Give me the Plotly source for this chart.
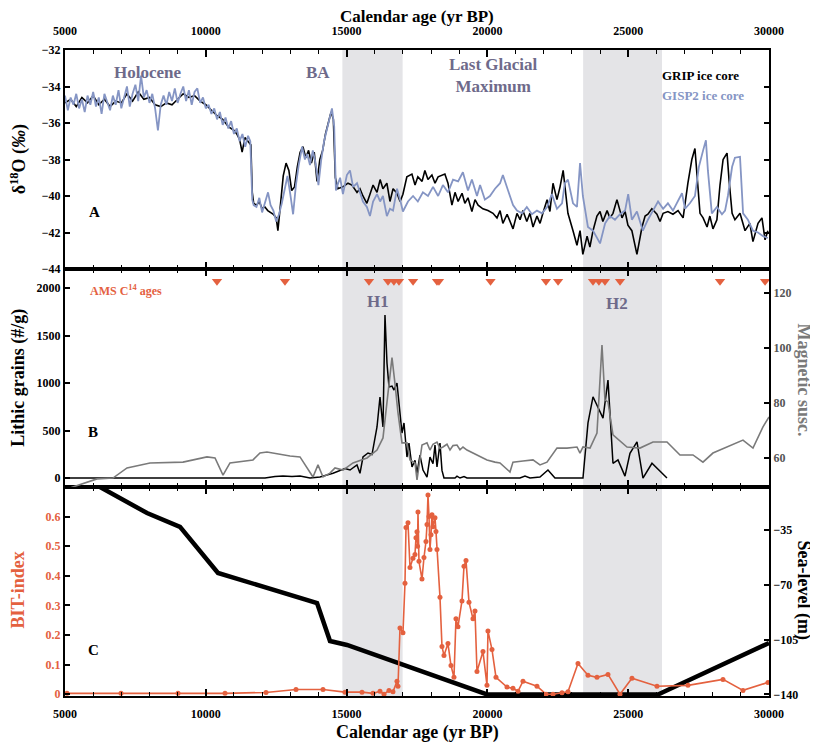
import plotly.graph_objects as go

# ---------------- DATA ----------------
# Panel A: Greenland ice core d18O (permil)
gisp2_age = [5000, 5100, 5200, 5300, 5400, 5500, 5600, 5700, 5800, 5900, 6000, 6100, 6200, 6300, 6400, 6500,
             6600, 6700, 6800, 6900, 7000, 7100, 7200, 7300, 7400, 7500, 7600, 7700, 7800, 7900, 8000, 8100,
             8200, 8300, 8400, 8500, 8600, 8700, 8800, 8900, 9000, 9100, 9200, 9300, 9400, 9500, 9600, 9700,
             9800, 9900, 10000, 10100, 10200, 10300, 10400, 10500, 10600, 10700, 10800, 10900, 11000, 11100,
             11200, 11300, 11400, 11500, 11580, 11650, 11700, 11800, 11900, 12000, 12100, 12210, 12300, 12400,
             12500, 12600, 12700, 12800, 12900, 13000, 13100, 13200, 13300, 13420, 13520, 13600, 13700, 13800,
             13900, 14000, 14100, 14200, 14300, 14400, 14480, 14560, 14620, 14700, 14770, 14870, 15010, 15120,
             15230, 15370, 15475, 15580, 15720, 15830, 15940, 16080, 16190, 16290, 16430, 16540, 16650, 16790,
             16900, 17000, 17180, 17360, 17530, 17710, 17890, 18070, 18250, 18420, 18600, 18780, 18960, 19130,
             19310, 19450, 19630, 19740, 19910, 20090, 20270, 20450, 20550, 20700, 20800, 20910, 21050, 21230,
             21400, 21580, 21760, 21940, 22120, 22290, 22470, 22650, 22750, 22860, 23040, 23180, 23290, 23390,
             23570, 23750, 24000, 24180, 24350, 24530, 24710, 24890, 25000, 25130, 25310, 25520, 25700, 25880,
             26060, 26240, 26410, 26590, 26770, 26910, 27020, 27190, 27370, 27510, 27660, 27760, 27830, 27970,
             28150, 28330, 28440, 28540, 28690, 28790, 28970, 29080, 29250, 29430, 29610, 29790, 29960]
gisp2_d18o = [-34.5, -35.3, -34.6, -35.0, -34.4, -35.2, -34.7, -35.4, -34.5, -35.0, -34.3, -35.1, -34.6, -35.5, -34.4, -34.9,
              -35.3, -34.5, -35.0, -34.2, -35.2, -34.6, -34.0, -35.1, -34.4, -33.9, -34.8, -33.4, -34.6, -34.2, -34.9, -34.4,
              -35.2, -36.4, -35.0, -34.5, -35.0, -34.3, -34.8, -34.1, -34.9, -34.4, -34.0, -34.8, -34.2, -35.0, -34.3, -34.1,
              -34.9, -34.6, -35.2, -35.0, -35.5, -35.2, -35.8, -35.4, -36.1, -35.7, -36.3, -35.9, -36.6, -36.3,
              -37.0, -36.6, -37.3, -36.7, -37.0, -40.2, -40.5, -40.6, -40.1, -40.9, -40.3, -39.8, -40.5, -40.8,
              -41.4, -41.0, -40.4, -39.6, -38.9, -39.9, -41.0, -39.4, -38.3, -37.3, -38.0, -37.7, -38.3, -37.5,
              -38.2, -39.4, -38.0, -37.0, -36.3, -35.6, -35.2, -36.2, -39.7, -39.3, -39.0, -39.9, -38.85, -38.6,
              -39.5, -39.3, -39.85, -40.3, -40.6, -41.1, -40.3, -39.9, -40.3, -40.0, -41.1, -40.7, -40.8, -39.6,
              -40.2, -40.85, -40.3, -40.0, -40.3, -39.8, -40.0, -39.5, -40.0, -39.4, -39.8, -39.1, -39.2, -38.7,
              -39.7, -39.1, -40.0, -39.4, -40.2, -40.0, -39.6, -39.3, -38.85, -39.6, -40.0, -40.5, -40.8, -40.95,
              -40.6, -41.0, -40.8, -40.95, -40.6, -39.9, -40.7, -40.4, -39.3, -39.1, -40.4, -40.6, -38.2, -40.0,
              -41.7, -41.9, -42.6, -41.5, -41.1, -41.3, -41.0, -40.8, -39.9, -41.3, -40.85, -41.9, -41.3, -40.8,
              -40.3, -40.7, -40.4, -40.8, -40.3, -39.85, -40.7, -40.4, -40.0, -38.4, -37.5, -36.95, -38.6, -40.95,
              -40.6, -41.0, -40.8, -40.0, -38.4, -37.9, -37.85, -40.95, -41.3, -41.9, -42.0, -42.2, -42.3]

grip_age = [5000, 5200, 5400, 5600, 5800, 6000, 6200, 6400, 6600, 6800, 7000, 7200, 7400, 7600, 7800, 8000,
            8200, 8400, 8600, 8800, 9000, 9200, 9400, 9600, 9800, 10000, 10200, 10400, 10600, 10800, 11000,
            11100, 11200, 11290, 11390, 11500, 11600, 11650, 11700, 11800, 11900, 12000, 12100, 12200, 12300,
            12400, 12500, 12560, 12650, 12750, 12850, 12950, 13050, 13150, 13250, 13350, 13450, 13550, 13650,
            13750, 13850, 13950, 14050, 14150, 14250, 14350, 14450, 14530, 14600, 14690, 14870, 15050, 15190,
            15370, 15475, 15580, 15720, 15830, 15940, 16080, 16190, 16290, 16430, 16540, 16650, 16790, 16900,
            17000, 17140, 17320, 17430, 17530, 17680, 17780, 17890, 18030, 18140, 18250, 18390, 18490, 18600,
            18740, 18850, 18960, 19100, 19200, 19310, 19450, 19560, 19670, 19840, 20020, 20200, 20340, 20450,
            20550, 20700, 20800, 20910, 21050, 21160, 21260, 21400, 21510, 21620, 21760, 21870, 21970, 22120,
            22220, 22330, 22470, 22580, 22690, 22860, 23040, 23180, 23290, 23390, 23540, 23640, 23750, 23890,
            24000, 24100, 24250, 24350, 24460, 24600, 24780, 24890, 24990, 25130, 25310, 25490, 25600, 25700,
            25840, 26020, 26130, 26240, 26410, 26590, 26770, 26950, 27120, 27260, 27370, 27440, 27550, 27660,
            27800, 27900, 28010, 28150, 28260, 28370, 28510, 28580, 28690, 28790, 28970, 29150, 29320, 29430,
            29610, 29750, 29860, 29960]
grip_d18o = [-34.9, -34.7, -35.1, -34.6, -34.9, -34.5, -35.0, -34.7, -35.1, -34.8, -34.9, -34.4, -34.8, -34.3, -34.7, -34.6,
             -35.0, -35.1, -34.9, -35.0, -34.7, -34.4, -34.6, -34.5, -34.8, -35.0, -35.3, -35.6, -35.8, -36.2, -36.4,
             -36.6, -36.9, -37.6, -36.8, -37.0, -37.2, -39.8, -40.4, -40.5, -40.3, -40.7, -40.6, -40.8, -40.9,
             -41.0, -41.2, -41.9, -40.5, -38.9, -38.2, -38.6, -39.7, -39.5, -38.4, -37.6, -37.3, -37.9, -37.5,
             -38.2, -37.6, -39.2, -38.0, -37.5, -36.6, -36.0, -35.4, -35.8, -39.0, -39.6, -39.5, -39.3, -39.4,
             -39.8, -39.6, -40.0, -40.4, -39.9, -39.4, -39.8, -39.1, -39.6, -39.3, -40.3, -39.6, -39.85, -40.3,
             -39.9, -38.95, -38.8, -39.4, -38.95, -39.2, -38.6, -39.1, -38.85, -39.3, -38.95, -38.85, -38.8, -39.3,
             -40.5, -39.8, -40.3, -39.85, -40.4, -40.1, -40.85, -40.2, -40.5, -40.7, -40.8, -40.95, -41.2, -40.8,
             -41.5, -41.0, -41.4, -41.8, -40.95, -41.3, -40.8, -41.4, -40.95, -41.7, -41.1, -41.5, -40.95, -40.2,
             -40.85, -39.3, -40.2, -39.5, -38.6, -40.95, -41.9, -42.7, -41.9, -43.2, -42.2, -42.8, -41.9, -41.1,
             -40.85, -41.4, -40.8, -41.2, -40.95, -40.2, -41.2, -40.85, -41.6, -41.9, -43.2, -41.7, -41.1, -41.0,
             -40.7, -41.0, -41.4, -40.95, -40.85, -41.0, -40.8, -41.2, -39.3, -38.0, -37.4, -38.8, -40.95, -41.2,
             -41.7, -41.1, -41.8, -41.3, -39.4, -38.0, -37.65, -39.1, -40.95, -41.3, -40.95, -41.9, -41.5, -42.5,
             -41.5, -41.2, -42.4, -41.9]

# Panel B: lithic grains (#/g) and magnetic susceptibility
lithic_age = [5000, 12102, 12457, 12741, 13061, 13345, 13700, 14055, 14517, 14943, 15122, 15369, 15475, 15582,
              15760, 15902, 16080, 16186, 16292, 16363, 16434, 16505, 16612, 16683, 16789, 16860, 16967, 17038,
              17144, 17215, 17322, 17429, 17500, 17606, 17713, 17855, 17961, 18068, 18139, 18210, 18316, 18387,
              18458, 18849, 18920, 19027, 19169, 19275, 21157, 21335, 21512, 21867, 22151, 22400, 23394, 23572,
              23750, 24105, 24282, 24459, 24637, 24886, 25063, 25312, 25524, 25844, 26377]
lithic_grains = [0, 0, 15, 20, 15, 20, 0, 10, 50, 100, 84, 137, 50, 221,
                 263, 247, 537, 853, 537, 1716, 1210, 958, 968, 926, 1000, 789, 474, 579,
                 221, 368, 116, 186, 50, 242, 84, 10, 221, 150, 347, 116, 368, 80,
                 0, 0, 20, 0, 15, 0, 0, 20, 0, 10, 84, 0, 0, 580,
                 855, 630, 1030, 155, 190, 20, 260, 380, 0, 155, 0]

mag_age = [5000, 6136, 6704, 7202, 8018, 9190, 10042, 10327, 10611, 10859, 11676, 11924, 12173, 12528, 12990,
           13345, 13806, 13984, 14162, 14410, 14588, 14872, 15227, 15724, 16080, 16292, 16612, 16718, 16825,
           16967, 17144, 17251, 17429, 17500, 17677, 17855, 17961, 18068, 18210, 18316, 18422, 18565, 18672,
           18778, 18920, 19027, 19133, 19275, 19488, 19737, 19985, 20269, 20447, 20802, 20908, 21264, 21619,
           21867, 22116, 22471, 22826, 23181, 23288, 23394, 23643, 23891, 24069, 24175, 24282, 24459, 24957,
           25418, 25880, 26377, 26839, 27300, 27655, 28010, 29076, 29431, 29786, 30000]
mag_susc = [48.5, 52.4, 52.7, 56.4, 58.2, 58.5, 60.4, 60.0, 53.8, 58.2, 59.3, 61.8, 62.2, 61.5, 60.7,
            60.4, 53.1, 57.5, 53.1, 54.5, 56.4, 55.6, 58.2, 60.0, 62.9, 67.3, 96.5, 87.0, 76.4,
            65.5, 65.5, 59.3, 58.2, 52.0, 64.7, 65.5, 62.9, 65.0, 65.8, 63.5, 64.0, 65.0, 62.9,
            64.5, 64.7, 63.0, 64.0, 62.9, 61.8, 60.4, 59.3, 58.5, 58.2, 54.9, 58.5, 58.9, 59.3,
            57.5, 58.5, 63.6, 63.6, 64.0, 61.8, 64.0, 63.6, 69.1, 101.1, 81.1, 80.4, 68.4, 64.0,
            63.6, 65.8, 65.8, 61.1, 61.1, 58.5, 61.8, 66.5, 63.6, 71.3, 74.9]

ams_c14_age = [10397, 12812, 15795, 16470, 16680, 16860, 17360, 18210, 18280, 20110, 22080, 22510,
               23750, 23960, 24175, 24710, 28260, 29860]

# Panel C: BIT-index and sea level (m)
bit_age = [5071, 6989, 9013, 10682, 12138, 13203, 14162, 14943, 15546, 15937, 16186, 16328, 16505, 16647,
           16789, 16825, 16896, 17002, 17073, 17109, 17180, 17251, 17357, 17428, 17464, 17499, 17520, 17535,
           17570, 17677, 17748, 17819, 17855, 17890, 17926, 17961, 17997, 18032, 18068, 18139, 18174, 18210,
           18316, 18387, 18458, 18600, 18707, 18813, 18884, 18955, 19097, 19168, 19240, 19346, 19488, 19559,
           19630, 19843, 19985, 20020, 20163, 20305, 20695, 20908, 21086, 21264, 21761, 22081, 22329, 22648,
           22861, 23217, 23572, 23891, 24282, 24708, 25134, 26022, 27122, 28366, 29076, 29963]
bit_index = [0.003, 0.003, 0.003, 0.003, 0.006, 0.016, 0.016, 0.007, 0.007, 0.003, 0.01, 0.0, 0.013, 0.008,
             0.044, 0.027, 0.224, 0.208, 0.375, 0.563, 0.579, 0.428, 0.459, 0.472, 0.529, 0.549, 0.50, 0.616,
             0.449, 0.389, 0.462, 0.516, 0.573, 0.673, 0.600, 0.489, 0.539, 0.606, 0.566, 0.596, 0.55, 0.489,
             0.328, 0.161, 0.131, 0.171, 0.097, 0.057, 0.255, 0.228, 0.315, 0.432, 0.452, 0.311, 0.255, 0.281,
             0.077, 0.144, 0.03, 0.214, 0.151, 0.057, 0.024, 0.02, 0.01, 0.044, 0.027, 0.0, 0.0, 0.005,
             0.008, 0.104, 0.064, 0.057, 0.067, 0.0, 0.054, 0.027, 0.03, 0.05, 0.013, 0.04]

sea_age = [6243, 7912, 9084, 10433, 13950, 14410, 15014, 19985, 26060, 30000]
sea_level = [-7.5, -24.1, -33.0, -62.4, -81.6, -105.9, -108.4, -140, -140, -107.1]

h_bands = [[14850, 16990], [23400, 26200]]
x_ticks = [5000, 10000, 15000, 20000, 25000, 30000]
x_tick_labels = ["5000", "10000", "15000", "20000", "25000", "30000"]

# ---------------- STYLE ----------------
FONT = "Liberation Serif"
PURPLE = "#6e6a8a"
BLUE = "#8595c4"
RED = "#e4613f"
GREY = "#7a7a7a"

fig = go.Figure()

# Panel A
fig.add_trace(go.Scatter(x=grip_age, y=grip_d18o, mode="lines", line=dict(color="black", width=1.6),
                         xaxis="x3", yaxis="y", name="GRIP"))
fig.add_trace(go.Scatter(x=gisp2_age, y=gisp2_d18o, mode="lines", line=dict(color=BLUE, width=1.8),
                         xaxis="x3", yaxis="y", name="GISP2"))
# Panel B
fig.add_trace(go.Scatter(x=lithic_age, y=lithic_grains, mode="lines", line=dict(color="black", width=1.5),
                         xaxis="x2", yaxis="y2", name="Lithic"))
fig.add_trace(go.Scatter(x=ams_c14_age, y=[2070] * len(ams_c14_age), mode="markers",
                         marker=dict(symbol="triangle-down", color=RED, size=9),
                         xaxis="x2", yaxis="y2", name="AMS"))
fig.add_trace(go.Scatter(x=mag_age, y=mag_susc, mode="lines", line=dict(color=GREY, width=1.6),
                         xaxis="x2", yaxis="y3", name="Mag"))
# Panel C
fig.add_trace(go.Scatter(x=sea_age, y=sea_level, mode="lines", line=dict(color="black", width=4.5),
                         xaxis="x", yaxis="y4", name="Sea level"))
fig.add_trace(go.Scatter(x=bit_age, y=bit_index, mode="lines+markers", line=dict(color=RED, width=1.6),
                         marker=dict(color=RED, size=5), cliponaxis=False,
                         xaxis="x", yaxis="y5", name="BIT"))

tickfont = dict(family=FONT, size=12, color="black", weight="bold")
xcommon = dict(range=[5000, 30000], tickvals=x_ticks, ticktext=x_tick_labels, showline=True, linewidth=2,
               linecolor="black", mirror="ticks", ticks="inside", ticklen=7, tickwidth=1.5, tickcolor="black",
               minor=dict(dtick=1000, tick0=5000, ticks="inside", ticklen=4, tickwidth=1, tickcolor="black"),
               showgrid=False, zeroline=False, tickfont=tickfont)
ycommon = dict(showline=True, linewidth=2, linecolor="black", ticks="inside", ticklen=5, tickwidth=1.5,
               tickcolor="black", showgrid=False, zeroline=False, tickfont=tickfont)

dA = [0.661, 1.0]
dB = [0.3235, 0.661]
dC = [0.0, 0.3235]

# the page body adds an 8px margin, so the figure is 8px smaller and margins shifted
fig.update_layout(
    width=810, height=735,
    margin=dict(l=57, r=49, t=42, b=47),
    paper_bgcolor="white", plot_bgcolor="rgba(0,0,0,0)",
    showlegend=False,
    font=dict(family=FONT, color="black"),
    xaxis=dict(**xcommon, anchor="y4", showticklabels=True, ticklabelstandoff=6),
    xaxis2=dict(**xcommon, anchor="y2", showticklabels=False, matches="x"),
    xaxis3=dict(**xcommon, anchor="y", side="top", showticklabels=True, matches="x", ticklabelstandoff=8),
    yaxis=dict(**ycommon, domain=dA, range=[-44, -32], dtick=2, mirror="ticks", anchor="x3"),
    yaxis2=dict(**ycommon, domain=dB, range=[-94.7, 2200], tickvals=[0, 500, 1000, 1500, 2000], anchor="x2"),
    yaxis3=dict(**{**ycommon, "tickfont": dict(family=FONT, size=12, color="#555555", weight="bold")},
                overlaying="y2", side="right", range=[49.45, 128.7], tickvals=[60, 80, 100, 120], anchor="x2"),
    yaxis4=dict(**ycommon, domain=dC, side="right", range=[-141, -7.5], tickvals=[-35, -70, -105, -140],
                anchor="x"),
    yaxis5=dict(**{**ycommon, "tickfont": dict(family=FONT, size=12, color=RED, weight="bold")},
                overlaying="y4", side="left", range=[-0.006, 0.70], tickvals=[0, 0.1, 0.2, 0.3, 0.4, 0.5, 0.6],
                ticktext=["0", "0.1", "0.2", "0.3", "0.4", "0.5", "0.6"], anchor="x"),
)

# Heinrich / LGM grey bands spanning all panels
shapes = []
for b0, b1 in h_bands:
    shapes.append(dict(type="rect", xref="x", yref="paper", x0=b0, x1=b1, y0=0, y1=1,
                       fillcolor="#e4e4e7", line=dict(width=0), layer="below"))
fig.update_layout(shapes=shapes)


def ann(text, x, y, size=13, color="black", angle=0, xanchor="center", yanchor="middle"):
    fig.add_annotation(text=text, x=x, y=y, xref="paper", yref="paper", showarrow=False,
                       textangle=angle, xanchor=xanchor, yanchor=yanchor,
                       font=dict(family=FONT, size=size, color=color))


ann("<b>Calendar age (yr BP)</b>", 0.5, 1.0515, size=17)
ann("<b>Calendar age (yr BP)</b>", 0.5, -0.057, size=18)
ann("<b>δ<sup>18</sup>O (<i>‰</i>)</b>", -0.066, 0.83, size=18, angle=-90)
ann("<b>Lithic grains (#/g)</b>", -0.066, 0.492, size=18, angle=-90)
ann("<b>BIT-index</b>", -0.066, 0.164, size=18, color=RED, angle=-90)
ann("<b>Magnetic susc.</b>", 1.049, 0.489, size=18, color=GREY, angle=90)
ann("<b>Sea-level (m)</b>", 1.049, 0.164, size=18, angle=90)

ann("<b>Holocene</b>", 0.1165, 0.9644, size=17, color=PURPLE)
ann("<b>BA</b>", 0.359, 0.9644, size=17, color=PURPLE)
ann("<b>Last Glacial<br>Maximum</b>", 0.608, 0.961, size=17, color=PURPLE)
ann("<b>GRIP ice core</b>", 0.845, 0.9598, size=13, xanchor="left")
ann("<b>GISP2 ice core</b>", 0.845, 0.929, size=13, color=BLUE, xanchor="left")
ann("<b>A</b>", 0.0426, 0.749, size=15)

ann("<b>AMS C<sup>14</sup> ages</b>", 0.0327, 0.628, size=12, color=RED, xanchor="left")
ann("<b>H1</b>", 0.4446, 0.610, size=17, color=PURPLE)
ann("<b>H2</b>", 0.784, 0.607, size=17, color=PURPLE)
ann("<b>B</b>", 0.0398, 0.4087, size=15)
ann("<b>C</b>", 0.0398, 0.0712, size=15)

fig.write_html("out.html")
